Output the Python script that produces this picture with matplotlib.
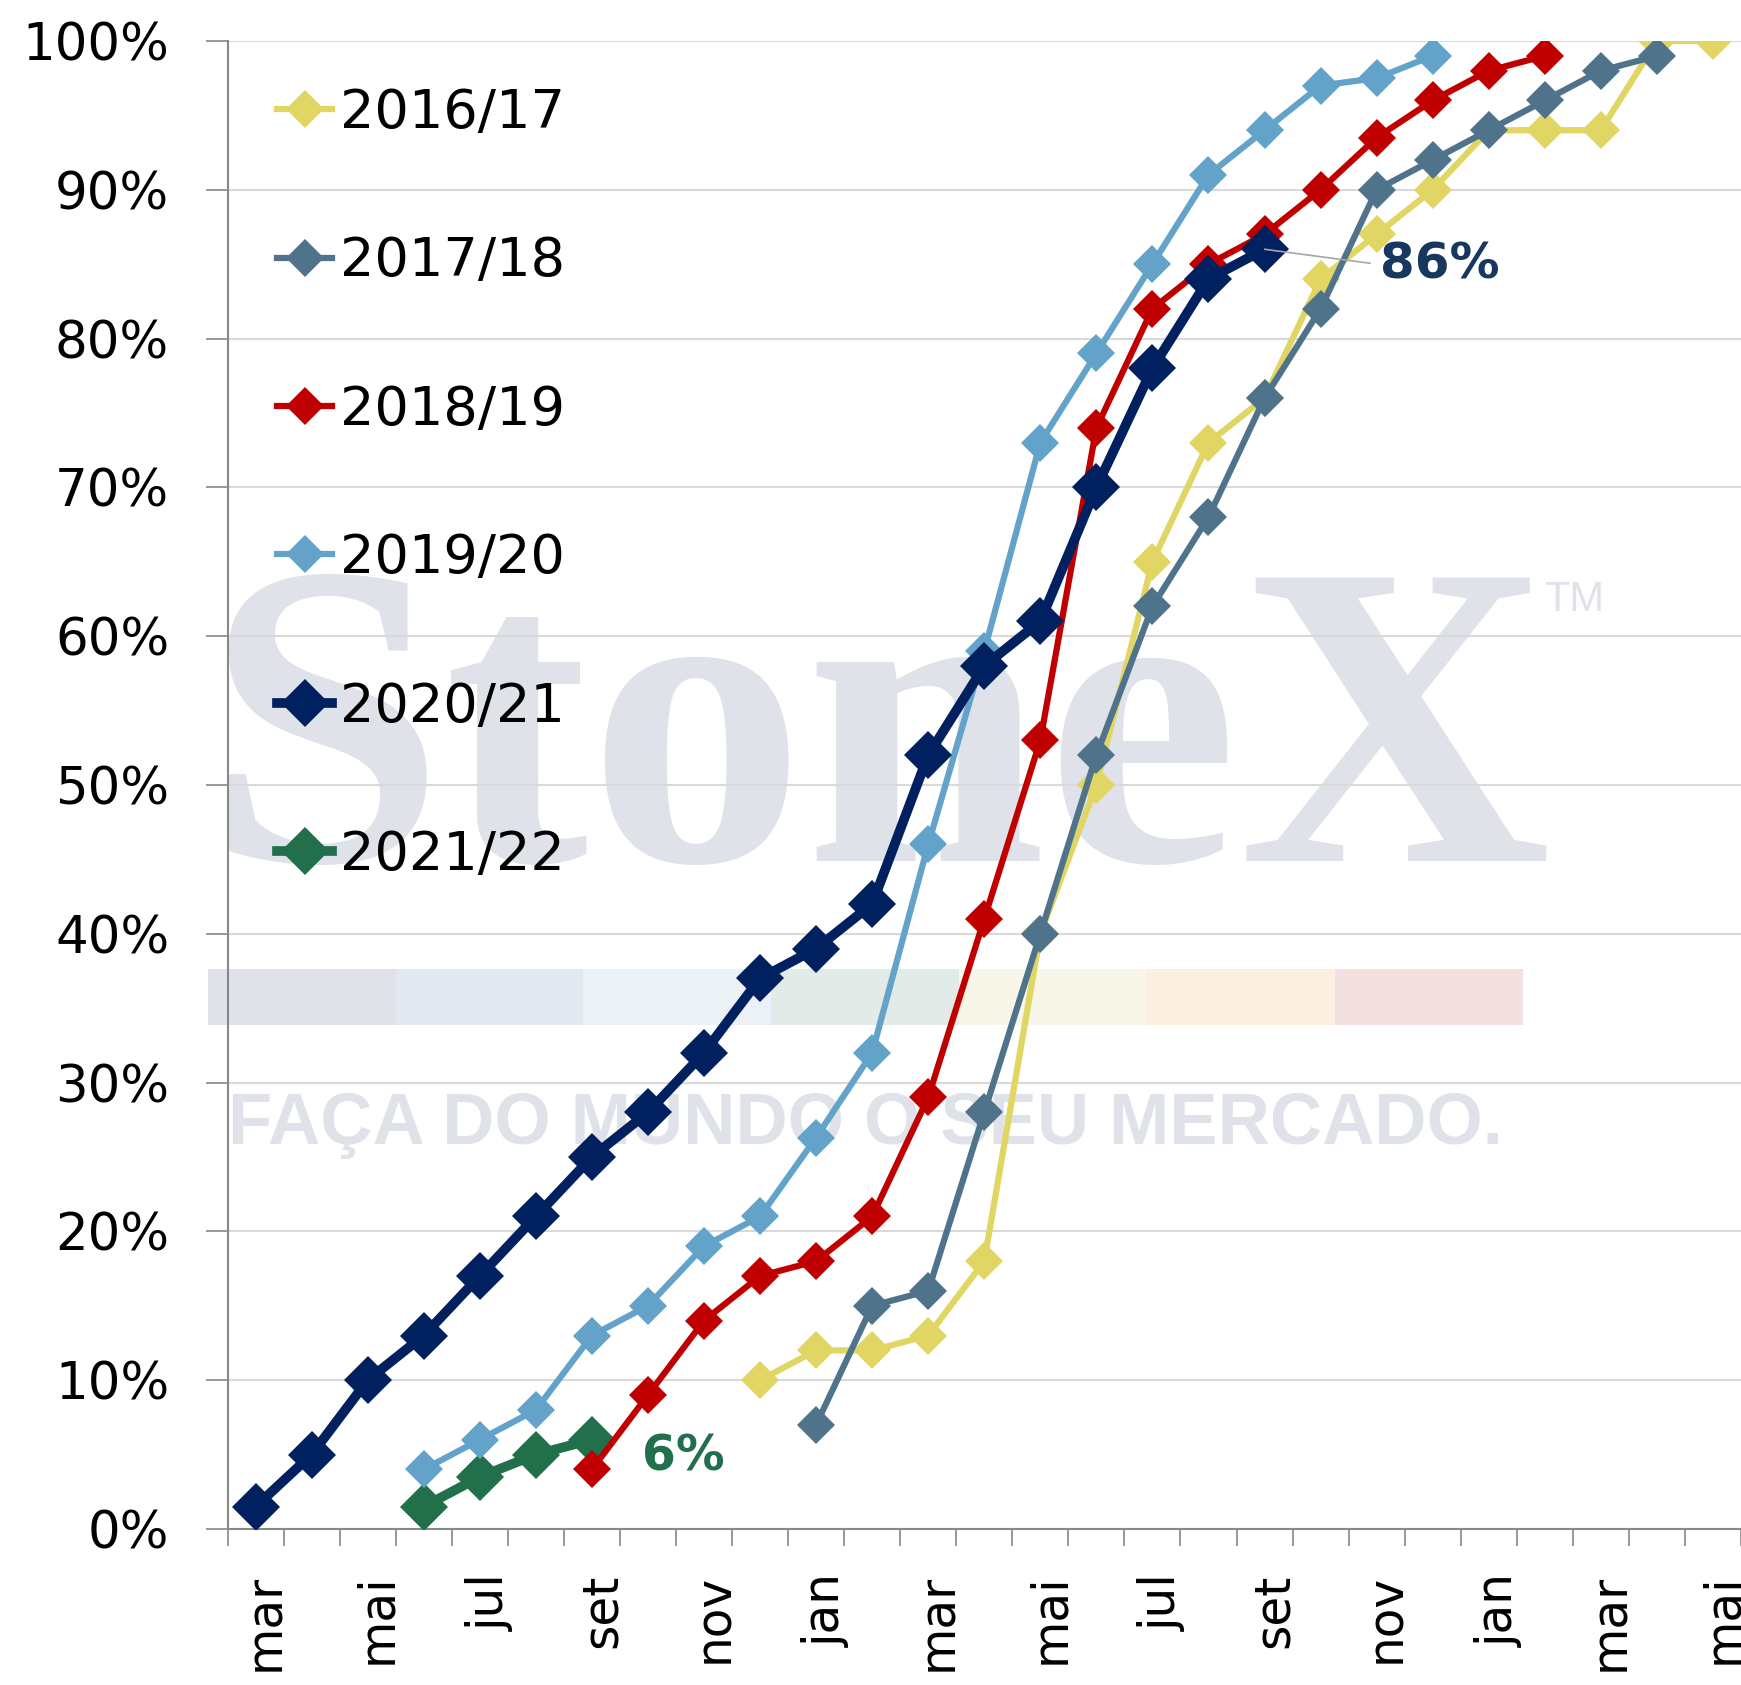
import numpy as np
import matplotlib
matplotlib.use('Agg')
import matplotlib.pyplot as plt
import matplotlib.transforms as mtransforms
from matplotlib.lines import Line2D
from matplotlib.patches import Rectangle

#months on the x axis (27 categories, label every other one)
months = ['mar', 'abr', 'mai', 'jun', 'jul', 'ago', 'set', 'out', 'nov', 'dez', 'jan', 'fev',
          'mar', 'abr', 'mai', 'jun', 'jul', 'ago', 'set', 'out', 'nov', 'dez', 'jan', 'fev',
          'mar', 'abr', 'mai']

#series values in %, with the index of the first month
s2016_start = 9
s2016 = [10, 12, 12, 13, 18, 40, 50, 65, 73, 76, 84, 87, 90, 94, 94, 94, 100, 100]
s2017_start = 10
s2017 = [7, 15, 16, 28, 40, 52, 62, 68, 76, 82, 90, 92, 94, 96, 98, 99]
s2018_start = 6
s2018 = [4, 9, 14, 17, 18, 21, 29, 41, 53, 74, 82, 85, 87, 90, 93.5, 96, 98, 99]
s2019_start = 3
s2019 = [4, 6, 8, 13, 15, 19, 21, 26.3, 32, 46, 59, 73, 79, 85, 91, 94, 97, 97.5, 99]
s2020_start = 0
s2020 = [1.5, 5, 10, 13, 17, 21, 25, 28, 32, 37, 39, 42, 52, 58, 61, 70, 78, 84, 86]
s2021_start = 3
s2021 = [1.5, 3.5, 5, 6]

y_ticks = [0, 10, 20, 30, 40, 50, 60, 70, 80, 90, 100]
y_labels = ['0%', '10%', '20%', '30%', '40%', '50%', '60%', '70%', '80%', '90%', '100%']

def full_series(start, vals):
    arr = np.full(len(months), np.nan)
    arr[start:start + len(vals)] = vals
    return arr

series = [
    ('2016/17', full_series(s2016_start, s2016), '#E1D664', 4.5, 19, 2),
    ('2017/18', full_series(s2017_start, s2017), '#50738C', 4.5, 19, 3),
    ('2018/19', full_series(s2018_start, s2018), '#C00000', 4.5, 19, 5),
    ('2019/20', full_series(s2019_start, s2019), '#63A3C9', 4.5, 19, 6),
    ('2020/21', full_series(s2020_start, s2020), '#002060', 7.0, 24, 7),
    ('2021/22', full_series(s2021_start, s2021), '#22704B', 7.0, 24, 4),
]

fig = plt.figure(figsize=(17.41, 16.85), dpi=100)
ax = fig.add_axes([0.1307, 0.0926, 0.8693, 0.8831])

#watermark
wm = '#DFE2E8'
ax.text(0.117, 0.489, 'StoneX', transform=fig.transFigure, family='Liberation Serif',
        fontweight='bold', fontsize=312, color=wm, ha='left', va='baseline', zorder=0.3, clip_on=False)
ax.text(0.904, 0.644, 'TM', transform=fig.transFigure, family='Liberation Sans',
        fontsize=30, color=wm, ha='center', va='center', zorder=0.3, clip_on=False)
band_colors = ['#DFE2E8', '#E3E7EF', '#ECF1F8', '#E2EBE7', '#F8F6E8', '#FBF0DF', '#F3E1E1']
bx0 = 207.6 / 1741
bw = (1523 - 207.6) / 1741 / len(band_colors)
for i, c in enumerate(band_colors):
    ax.add_patch(Rectangle((bx0 + i * bw, 1 - 1025 / 1685), bw, 56 / 1685, transform=fig.transFigure,
                           facecolor=c, edgecolor='none', zorder=0.3, clip_on=False))
ax.text(0.1307, 0.3213, 'FAÇA DO MUNDO O SEU MERCADO.', transform=fig.transFigure,
        family='Liberation Sans', fontweight='bold', fontsize=52,
        color=wm, ha='left', va='baseline', zorder=0.3, clip_on=False)

x = np.arange(len(months))
handles = []
for name, vals, color, lw, ms, z in series:
    ax.plot(x, vals, color=color, linewidth=lw, marker='D', markersize=ms,
            markeredgewidth=0, zorder=z, solid_joinstyle='round')
    handles.append(Line2D([], [], color=color, linewidth=lw, marker='D', markersize=ms,
                          markeredgewidth=0, label=name))

#labels
ax.annotate('86%', xy=(18, 86), xytext=(83, -11), textcoords='offset points',
            fontsize=36, fontweight='bold', color='#17375E', ha='left', va='center',
            arrowprops=dict(arrowstyle='-', color='#A6A6A6', lw=1.2, relpos=(0, 0.5),
                            shrinkA=5, shrinkB=0), zorder=8)
ax.annotate('6%', xy=(6, 6), xytext=(36, -12), textcoords='offset points',
            fontsize=35, fontweight='bold', color='#22704B', ha='left', va='center', zorder=8)

#axes
ax.set_xlim(-0.5, len(months) - 0.5)
ax.set_ylim(0, 100)
ax.set_xticks(x[::2])
ax.set_xticklabels(months[::2], rotation=90, fontsize=35)
ax.set_xticks(np.arange(-0.5, len(months) + 0.5, 1), minor=True)
ax.tick_params(axis='x', which='major', length=0, pad=32)
ax.tick_params(axis='x', which='minor', length=12, width=1.2, color='#888888')
shift = mtransforms.ScaledTranslation(7 / 72, 0, fig.dpi_scale_trans)
for lab in ax.get_xticklabels():
    lab.set_transform(lab.get_transform() + shift)
ax.set_yticks(y_ticks)
ax.set_yticklabels(y_labels, fontsize=37)
ax.tick_params(axis='y', length=16, width=1.2, color='#888888', pad=26)
ax.grid(axis='y', color='#D9D9D9', linewidth=1.5, zorder=1)
ax.set_axisbelow(True)
for s in ['top', 'right']:
    ax.spines[s].set_visible(False)
for s in ['left', 'bottom']:
    ax.spines[s].set_color('#888888')
    ax.spines[s].set_linewidth(1.5)
ax.set_facecolor('none')

leg = ax.legend(handles=handles, loc='upper left', bbox_to_anchor=(0.033, 0.969), frameon=False,
                fontsize=39, handlelength=1.0, handletextpad=0.15, labelspacing=1.78,
                borderaxespad=0, borderpad=0)
leg.set_zorder(9)

fig.savefig('out.png', dpi=100)
